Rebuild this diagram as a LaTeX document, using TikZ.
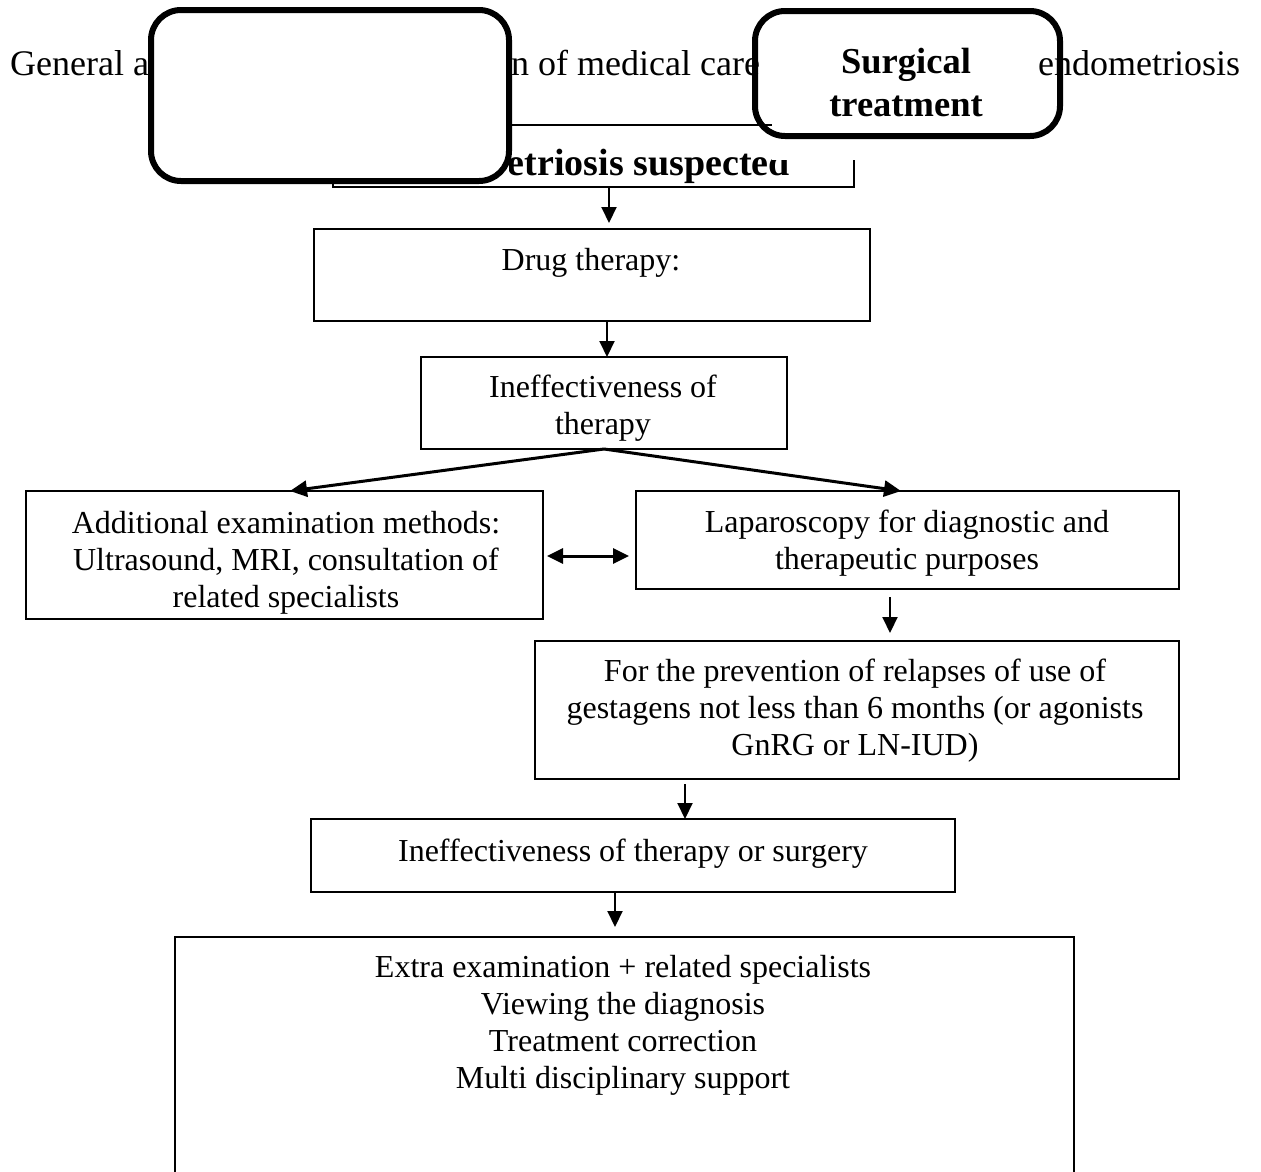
\documentclass[tikz,border=0pt]{standalone}
\usepackage{fontspec}
\setmainfont{Liberation Serif}
\usetikzlibrary{arrows.meta}
\begin{document}
\begin{tikzpicture}[x=1pt,y=-1pt,
  box/.style={draw, line width=1.6pt, inner sep=0pt, outer sep=0pt},
  cover/.style={fill=white, inner sep=0pt, outer sep=0pt},
  rborder/.style={line width=6pt, rounded corners=30pt},
  body/.style={inner sep=0pt, outer sep=0pt, align=center, anchor=north,
    font=\fontsize{32}{37}\selectfont},
  titletext/.style={inner sep=0pt, anchor=base west, font=\fontsize{36}{40}\selectfont},
  arr/.style={line width=2pt, -{Triangle[length=16pt,width=15pt]}},
  warr/.style={line width=3pt, -{Triangle[length=17pt,width=16pt]}},
  dblarr/.style={line width=3pt, {Triangle[length=16pt,width=15pt]}-{Triangle[length=16pt,width=15pt]}},
]
\useasboundingbox (0,0) rectangle (1261,1171);
\clip (0,0) rectangle (1261,1171);

% flowchart boxes
\node[box, minimum width=521pt, minimum height=62pt] (endo) at (593.5,156) {};
\node[inner sep=0pt, anchor=base east, font=\bfseries\fontsize{38}{44}\selectfont]
  (endoT) at (790,175) {metriosis suspected};
\node[box, minimum width=556pt, minimum height=92pt] (drug) at (592,275) {};
\node[body] (drugT) at (591,244.1) {\strut Drug therapy:};
\node[box, minimum width=366pt, minimum height=92pt] (ineff) at (604,403) {};
\node[body] (ineffT) at (603,371.1) {\strut Ineffectiveness of\\therapy};
\node[box, minimum width=517pt, minimum height=128pt] (exam) at (284.5,555) {};
\node[body] (examT) at (286,507.1)
  {\strut Additional examination methods:\\Ultrasound, MRI, consultation of\\related specialists};
\node[box, minimum width=543pt, minimum height=98pt] (lap) at (907.5,540) {};
\node[body] (lapT) at (907,506.1) {\strut Laparoscopy for diagnostic and\\therapeutic purposes};
\node[box, minimum width=644pt, minimum height=138pt] (prev) at (857,710) {};
\node[body] (prevT) at (855,655.1)
  {\strut For the prevention of relapses of use of\\gestagens not less than 6 months (or agonists\\GnRG or LN-IUD)};
\node[box, minimum width=644pt, minimum height=73pt] (fail) at (633,855.5) {};
\node[body] (failT) at (633,835.1) {\strut Ineffectiveness of therapy or surgery};
\node[box, minimum width=899pt, minimum height=300pt] (extra) at (624.5,1087) {};
\node[body] (extraT) at (623,951.1)
  {\strut Extra examination + related specialists\\Viewing the diagnosis\\Treatment correction\\Multi disciplinary support};

% blank area over the upper right corner of the first box
\node[cover, minimum width=100pt, minimum height=45pt] (blank) at (822,137.5) {};

% rounded frames (fills)
\node[cover, minimum width=358pt, minimum height=171pt] (frameA) at (330,95.5) {};
\node[cover, minimum width=305pt, minimum height=125pt] (frameB) at (907.5,73.5) {};

% heading fragments
\node[titletext] (head1) at (10,75) {General a};
\node[titletext] (head2) at (511,75) {n of medical care};
\node[titletext] (head3) at (1038,75) {endometriosis};

% rounded frame borders
\draw[rborder] (frameA.north west) rectangle (frameA.south east);
\draw[rborder] (frameB.north west) rectangle (frameB.south east);
\node[inner sep=0pt, anchor=north, align=center, font=\bfseries\fontsize{36.5}{43}\selectfont]
  (surgT) at (906,42.9) {\strut Surgical\\treatment};
\draw[line width=1.6pt] (frameB.west |- endo.north) -- (blank.west |- endo.north);

% connector columns
\coordinate (c1) at (609,0);
\coordinate (c2) at (607,0);
\coordinate (cl) at (290,0);
\coordinate (cr) at (901,0);
\coordinate (c3) at (890,0);
\coordinate (c4) at (685,0);
\coordinate (c5) at (615,0);

% connectors
\draw[arr, shorten >=6pt] (endo.south -| c1) -- (drug.north -| c1);
\draw[arr] (drug.south -| c2) -- (ineff.north -| c2);
\draw[warr] (ineff.south) -- (exam.north -| cl);
\draw[warr] (ineff.south) -- (lap.north -| cr);
\draw[dblarr, shorten <=4pt, shorten >=7pt] (exam.east |- 0,556) -- (lap.west |- 0,556);
\draw[arr, shorten <=8pt, shorten >=8pt] (lap.south -| c3) -- (prev.north -| c3);
\draw[arr, shorten <=5pt] (prev.south -| c4) -- (fail.north -| c4);
\draw[arr, shorten >=10pt] (fail.south -| c5) -- (extra.north -| c5);
\end{tikzpicture}
\end{document}
